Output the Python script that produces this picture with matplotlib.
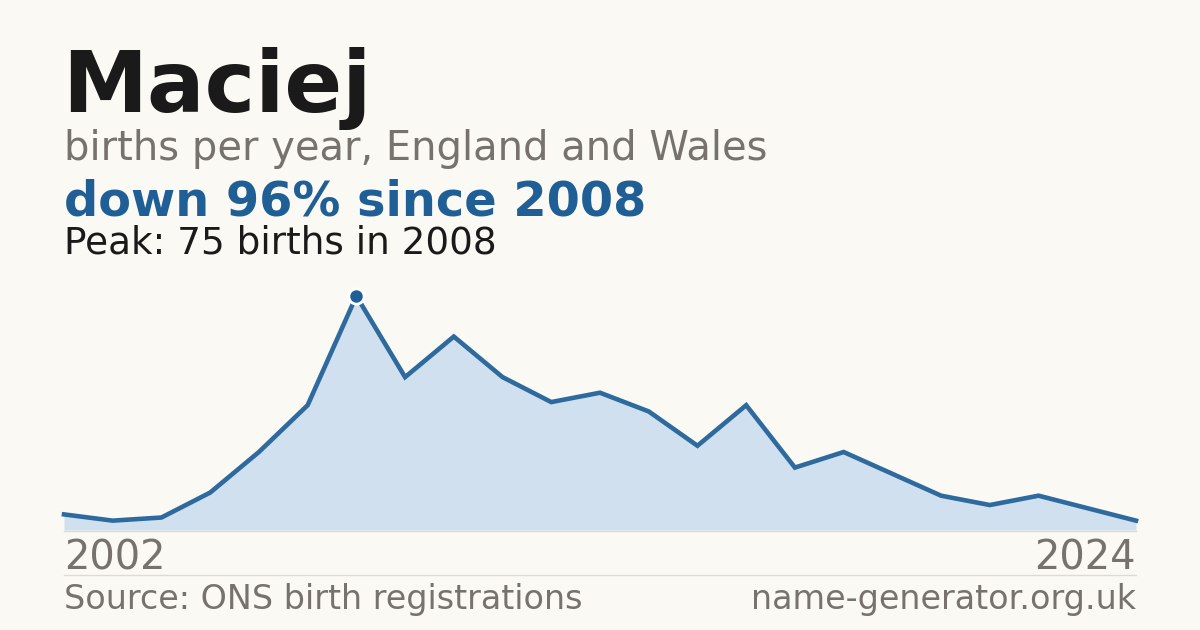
#!/usr/bin/env python3
import matplotlib
matplotlib.use('Agg')
import matplotlib.pyplot as plt
from matplotlib.lines import Line2D

# data
years = list(range(2002, 2025))
births = [5, 3, 4, 12, 25, 40, 75, 49, 62, 49, 41, 44, 38, 27, 40, 20, 25, 18, 11, 8, 11, 7, 3]
name = "Maciej"
subtitle = "births per year, England and Wales"
headline = "down 96% since 2008"
peak_note = "Peak: 75 births in 2008"
source_text = "Source: ONS birth registrations"
site_text = "name-generator.org.uk"

BG = '#faf9f4'
BLUE = '#1f5f96'
LINE = '#2e6a9e'
FILL = '#d0e0ef'
GREY = '#77736c'
DARK = '#1a1a1a'

W, H = 1200, 630
fig = plt.figure(figsize=(12, 6.3), dpi=100, facecolor=BG)

def fx(px):
    return px / W

def fy(py):
    return 1 - py / H

# chart area: left 64, right 1136, baseline 530, peak at 296
ax = fig.add_axes([fx(64), fy(530), fx(1136 - 64), (530 - 296) / H])
ax.set_facecolor('none')
ax.fill_between(years, births, 0, color=FILL, lw=0)
ax.plot(years, births, color=LINE, lw=3.3, solid_joinstyle='miter', clip_on=False)
peak_i = births.index(max(births))
ax.plot(years[peak_i], births[peak_i], 'o', ms=11, color=BLUE,
        mec='white', mew=2, clip_on=False, zorder=5)
ax.set_xlim(years[0], years[-1])
ax.set_ylim(0, max(births))
ax.axis('off')

# baseline and footer rule
fig.add_artist(Line2D([fx(64), fx(1136)], [fy(530.5), fy(530.5)], color='#dedbd4', lw=1))
fig.add_artist(Line2D([fx(64), fx(1136)], [fy(575), fy(575)], color='#dedbd4', lw=1))

# titles
fig.text(fx(62), fy(112), name, fontsize=61.5, fontweight='bold', color=DARK, va='baseline')
fig.text(fx(64), fy(160), subtitle, fontsize=28.8, color=GREY, va='baseline')
fig.text(fx(64), fy(215), headline, fontsize=34.5, fontweight='bold', color=BLUE, va='baseline')
fig.text(fx(64), fy(254), peak_note, fontsize=26.9, color=DARK, va='baseline')

# x labels
fig.text(fx(64), fy(569), str(years[0]), fontsize=28.8, color=GREY, va='baseline', ha='left')
fig.text(fx(1136), fy(569), str(years[-1]), fontsize=28.8, color=GREY, va='baseline', ha='right')

# footer
fig.text(fx(64), fy(609), source_text, fontsize=24, color=GREY, va='baseline')
fig.text(fx(1136), fy(609), site_text, fontsize=24, color=GREY, va='baseline', ha='right')

fig.savefig('out.png', dpi=100, facecolor=BG)
